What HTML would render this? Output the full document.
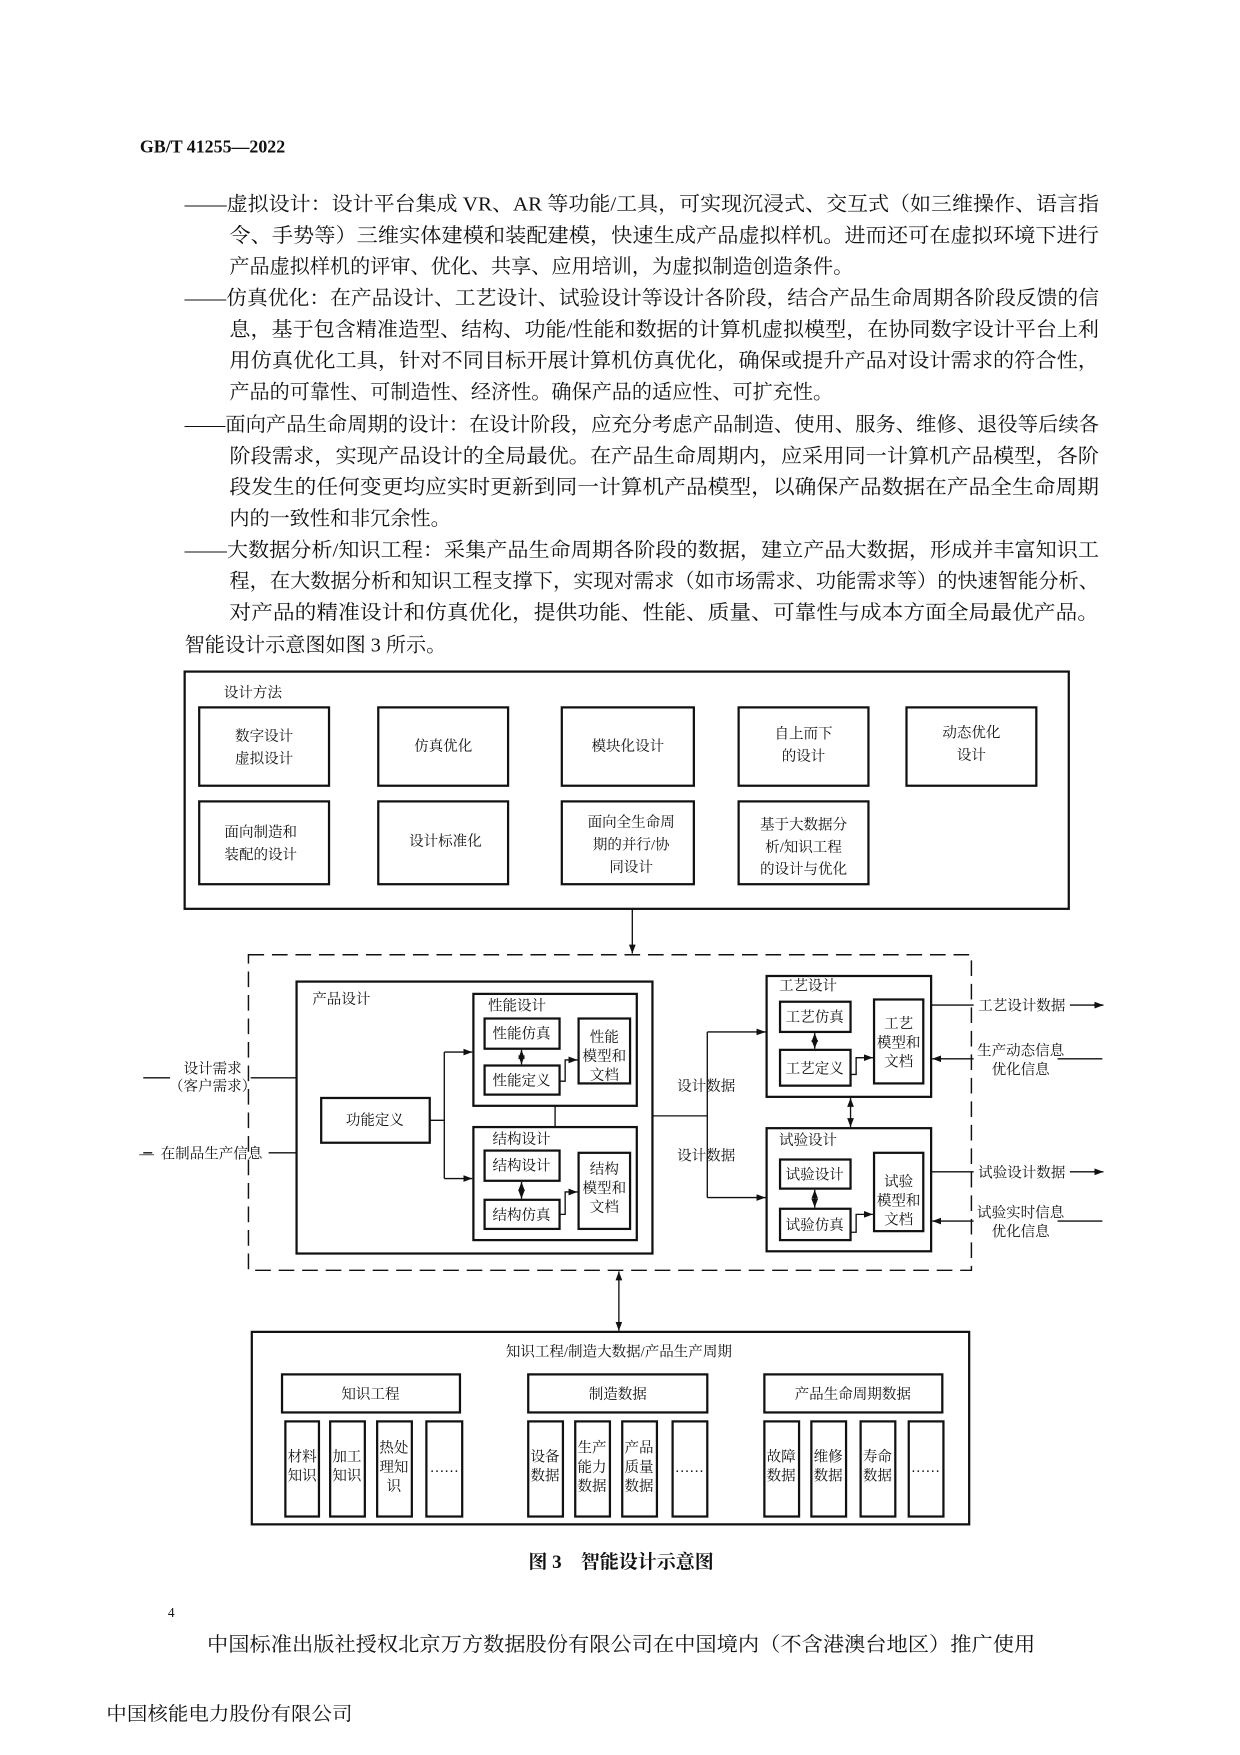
<!DOCTYPE html>
<html><head><meta charset="utf-8"><style>
html,body{margin:0;padding:0;background:#fff;}
svg{display:block;}
text{font-family:"Liberation Serif","Noto Serif CJK SC","Noto Sans CJK SC",serif;fill:#111;}
</style></head><body>
<svg width="1240" height="1755" viewBox="0 0 1108 1568" xmlns="http://www.w3.org/2000/svg">
<defs><marker id="a" markerWidth="8" markerHeight="6" refX="8" refY="3" orient="auto" markerUnits="userSpaceOnUse"><path d="M0,0 L8,3 L0,6 Z" fill="#111"/></marker>
<marker id="s" markerWidth="8" markerHeight="6" refX="0" refY="3" orient="auto" markerUnits="userSpaceOnUse"><path d="M8,0 L0,3 L8,6 Z" fill="#111"/></marker></defs>
<rect width="1108" height="1568" fill="#fff"/>
<text x="125" y="136" font-size="16" font-weight="bold" font-family="Liberation Sans">GB/T 41255—2022</text>
<g font-size="18">
<text x="165" y="188" textLength="817" lengthAdjust="spacingAndGlyphs">——虚拟设计：设计平台集成 VR、AR 等功能/工具，可实现沉浸式、交互式（如三维操作、语言指</text>
<text x="205" y="216" textLength="777" lengthAdjust="spacingAndGlyphs">令、手势等）三维实体建模和装配建模，快速生成产品虚拟样机。进而还可在虚拟环境下进行</text>
<text x="205" y="244">产品虚拟样机的评审、优化、共享、应用培训，为虚拟制造创造条件。</text>
<text x="165" y="272" textLength="817" lengthAdjust="spacingAndGlyphs">——仿真优化：在产品设计、工艺设计、试验设计等设计各阶段，结合产品生命周期各阶段反馈的信</text>
<text x="205" y="300" textLength="777" lengthAdjust="spacingAndGlyphs">息，基于包含精准造型、结构、功能/性能和数据的计算机虚拟模型，在协同数字设计平台上利</text>
<text x="205" y="328" textLength="777" lengthAdjust="spacingAndGlyphs">用仿真优化工具，针对不同目标开展计算机仿真优化，确保或提升产品对设计需求的符合性，</text>
<text x="205" y="356">产品的可靠性、可制造性、经济性。确保产品的适应性、可扩充性。</text>
<text x="165" y="385" textLength="817" lengthAdjust="spacingAndGlyphs">——面向产品生命周期的设计：在设计阶段，应充分考虑产品制造、使用、服务、维修、退役等后续各</text>
<text x="205" y="413" textLength="777" lengthAdjust="spacingAndGlyphs">阶段需求，实现产品设计的全局最优。在产品生命周期内，应采用同一计算机产品模型，各阶</text>
<text x="205" y="441" textLength="777" lengthAdjust="spacingAndGlyphs">段发生的任何变更均应实时更新到同一计算机产品模型，以确保产品数据在产品全生命周期</text>
<text x="205" y="469">内的一致性和非冗余性。</text>
<text x="165" y="497" textLength="817" lengthAdjust="spacingAndGlyphs">——大数据分析/知识工程：采集产品生命周期各阶段的数据，建立产品大数据，形成并丰富知识工</text>
<text x="205" y="525" textLength="777" lengthAdjust="spacingAndGlyphs">程，在大数据分析和知识工程支撑下，实现对需求（如市场需求、功能需求等）的快速智能分析、</text>
<text x="205" y="553" textLength="777" lengthAdjust="spacingAndGlyphs">对产品的精准设计和仿真优化，提供功能、性能、质量、可靠性与成本方面全局最优产品。</text>
<text x="165" y="582">智能设计示意图如图 3 所示。</text>
</g>
<g fill="none" stroke="#111" stroke-width="2">
<rect x="165" y="600" width="790" height="212"/>
<rect x="178" y="632" width="116" height="70"/><rect x="338" y="632" width="116" height="70"/><rect x="502" y="632" width="118" height="70"/><rect x="660" y="632" width="116" height="70"/><rect x="810" y="632" width="116" height="70"/>
<rect x="178" y="716" width="116" height="74"/><rect x="338" y="716" width="116" height="74"/><rect x="502" y="716" width="118" height="74"/><rect x="660" y="716" width="116" height="74"/>
<rect x="222" y="853" width="646" height="282" stroke-width="1.3" stroke-dasharray="14,7"/>
<rect x="265" y="877" width="318" height="243"/>
<rect x="423" y="888" width="146" height="100"/><rect x="433" y="910" width="67" height="27"/><rect x="433" y="952" width="67" height="26"/><rect x="517" y="910" width="46" height="58"/>
<rect x="423" y="1007" width="146" height="101"/><rect x="433" y="1028" width="67" height="27"/><rect x="433" y="1072" width="67" height="26"/><rect x="517" y="1030" width="46" height="68"/>
<rect x="287" y="981" width="97" height="40"/>
<rect x="685" y="872" width="147" height="108"/><rect x="697" y="895" width="63" height="27"/><rect x="697" y="938" width="63" height="32"/><rect x="781" y="893" width="44" height="75"/>
<rect x="685" y="1008" width="147" height="110"/><rect x="697" y="1036" width="63" height="26"/><rect x="697" y="1080" width="63" height="28"/><rect x="781" y="1030" width="44" height="70"/>
<rect x="225" y="1190" width="641" height="172"/>
<rect x="252" y="1228" width="159" height="34"/><rect x="472" y="1228" width="160" height="34"/><rect x="683" y="1228" width="159" height="34"/>
<rect x="255" y="1270" width="30" height="85"/><rect x="295" y="1270" width="31" height="85"/><rect x="337" y="1270" width="31" height="85"/><rect x="381" y="1270" width="32" height="85"/>
<rect x="472" y="1270" width="31" height="85"/><rect x="514" y="1270" width="31" height="85"/><rect x="556" y="1270" width="31" height="85"/><rect x="601" y="1270" width="31" height="85"/>
<rect x="683" y="1270" width="31" height="85"/><rect x="725" y="1270" width="31" height="85"/><rect x="769" y="1270" width="31" height="85"/><rect x="812" y="1270" width="31" height="85"/>
</g>
<g fill="none" stroke="#111" stroke-width="1.2">
<path d="M565 812 V852" marker-end="url(#a)"/>
<path d="M384 1001 H397 M397 940 V1053"/>
<path d="M397 940 H422" marker-end="url(#a)"/><path d="M397 1053 H422" marker-end="url(#a)"/>
<path d="M496 988 V1007"/>
<path d="M466 938 V951" marker-start="url(#s)" marker-end="url(#a)"/>
<path d="M466 1056 V1071" marker-start="url(#s)" marker-end="url(#a)"/>
<path d="M500 966 H505 V947 H516" marker-end="url(#a)"/>
<path d="M500 1085 H505 V1065 H516" marker-end="url(#a)"/>
<path d="M728 923 V937" marker-start="url(#s)" marker-end="url(#a)"/>
<path d="M728 1063 V1079" marker-start="url(#s)" marker-end="url(#a)"/>
<path d="M760 960 H765 V945 H780" marker-end="url(#a)"/>
<path d="M760 1101 H765 V1085 H780" marker-end="url(#a)"/>
<path d="M583 997 H632 M632 922 V1070"/>
<path d="M632 922 H684" marker-end="url(#a)"/><path d="M632 1070 H684" marker-end="url(#a)"/>
<path d="M760 981 V1007" marker-start="url(#s)" marker-end="url(#a)"/>
<path d="M553 1136 V1189" marker-start="url(#s)" marker-end="url(#a)"/>
<path d="M832 898 H870 M956 898 H985" /><path d="M977 898 H986" marker-end="url(#a)"/>
<path d="M985 946 H945 M870 946 H833" marker-end="url(#a)"/>
<path d="M832 1047 H870 M956 1047 H985"/><path d="M977 1047 H986" marker-end="url(#a)"/>
<path d="M985 1091 H945 M870 1091 H833" marker-end="url(#a)"/>
<path d="M128 963 H152 M224 963 H265"/>
<path d="M128 1030 H136 M240 1030 H265"/>
</g>
<g font-size="13" text-anchor="middle">
<text x="226" y="623" text-anchor="middle">设计方法</text>
<text x="236" y="662">数字设计</text><text x="236" y="682">虚拟设计</text>
<text x="396" y="671">仿真优化</text>
<text x="561" y="671">模块化设计</text>
<text x="718" y="660">自上而下</text><text x="718" y="680">的设计</text>
<text x="868" y="659">动态优化</text><text x="868" y="679">设计</text>
<text x="233" y="748">面向制造和</text><text x="233" y="768">装配的设计</text>
<text x="398" y="756">设计标准化</text>
<text x="564" y="739">面向全生命周</text><text x="564" y="759">期的并行/协</text><text x="564" y="779">同设计</text>
<text x="718" y="741">基于大数据分</text><text x="718" y="761">析/知识工程</text><text x="718" y="781">的设计与优化</text>
<text x="305" y="897">产品设计</text>
<text x="462" y="903">性能设计</text>
<text x="466" y="928">性能仿真</text><text x="466" y="970">性能定义</text>
<text x="540" y="931">性能</text><text x="540" y="948">模型和</text><text x="540" y="965">文档</text>
<text x="335" y="1005">功能定义</text>
<text x="466" y="1022">结构设计</text>
<text x="466" y="1046">结构设计</text><text x="466" y="1090">结构仿真</text>
<text x="540" y="1049">结构</text><text x="540" y="1066">模型和</text><text x="540" y="1083">文档</text>
<text x="722" y="885">工艺设计</text>
<text x="728" y="913">工艺仿真</text><text x="728" y="959">工艺定义</text>
<text x="803" y="919">工艺</text><text x="803" y="936">模型和</text><text x="803" y="953">文档</text>
<text x="722" y="1023">试验设计</text>
<text x="728" y="1054">试验设计</text><text x="728" y="1099">试验仿真</text>
<text x="803" y="1060">试验</text><text x="803" y="1077">模型和</text><text x="803" y="1094">文档</text>
<text x="631" y="975">设计数据</text><text x="631" y="1037">设计数据</text>
<text x="913" y="903">工艺设计数据</text>
<text x="912" y="943">生产动态信息</text><text x="912" y="960">优化信息</text>
<text x="913" y="1052">试验设计数据</text>
<text x="912" y="1088">试验实时信息</text><text x="912" y="1105">优化信息</text>
<text x="190" y="959">设计需求</text><text x="190" y="975">（客户需求）</text>
<text x="189" y="1035">在制品生产信息</text><text x="131" y="1035">—</text>
<text x="553" y="1212">知识工程/制造大数据/产品生产周期</text>
<text x="331" y="1250">知识工程</text><text x="552" y="1250">制造数据</text><text x="762" y="1250">产品生命周期数据</text>
<text x="270" y="1306">材料</text><text x="270" y="1323">知识</text>
<text x="310" y="1306">加工</text><text x="310" y="1323">知识</text>
<text x="352" y="1298">热处</text><text x="352" y="1315">理知</text><text x="352" y="1332">识</text>
<text x="397" y="1315">……</text>
<text x="487" y="1306">设备</text><text x="487" y="1323">数据</text>
<text x="529" y="1298">生产</text><text x="529" y="1315">能力</text><text x="529" y="1332">数据</text>
<text x="571" y="1298">产品</text><text x="571" y="1315">质量</text><text x="571" y="1332">数据</text>
<text x="616" y="1315">……</text>
<text x="698" y="1306">故障</text><text x="698" y="1323">数据</text>
<text x="740" y="1306">维修</text><text x="740" y="1323">数据</text>
<text x="784" y="1306">寿命</text><text x="784" y="1323">数据</text>
<text x="827" y="1315">……</text>
</g>
<text x="555" y="1401" font-size="17" font-weight="bold" text-anchor="middle" font-family="Liberation Sans,Noto Sans CJK SC,sans-serif">图 3　智能设计示意图</text>
<text x="150" y="1445" font-size="12">4</text>
<text x="185" y="1475" font-size="18" textLength="740" lengthAdjust="spacingAndGlyphs">中国标准出版社授权北京万方数据股份有限公司在中国境内（不含港澳台地区）推广使用</text>
<text x="95" y="1537" font-size="17" textLength="220" lengthAdjust="spacingAndGlyphs">中国核能电力股份有限公司</text>
</svg>
</body></html>
